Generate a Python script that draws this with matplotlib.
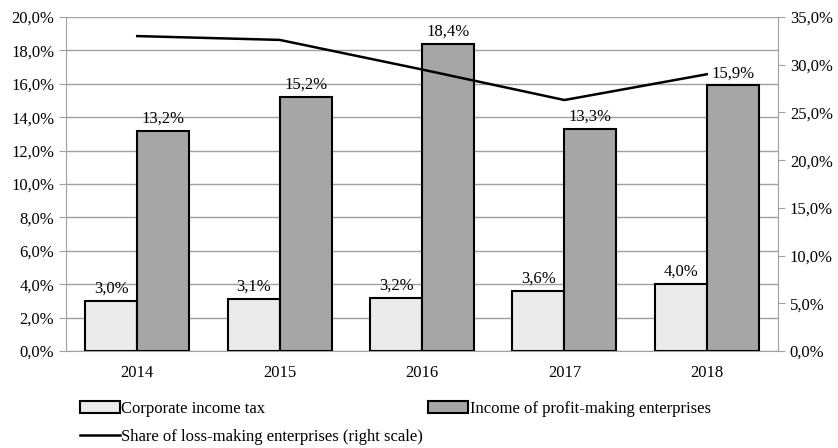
import matplotlib
matplotlib.use("Agg")
import matplotlib.pyplot as plt
import matplotlib.ticker as mticker
from matplotlib.patches import Patch
from matplotlib.lines import Line2D
import numpy as np

years = ["2014", "2015", "2016", "2017", "2018"]
corporate_tax = [3.0, 3.1, 3.2, 3.6, 4.0]
profit_income = [13.2, 15.2, 18.4, 13.3, 15.9]
loss_share = [33.0, 32.6, 29.5, 26.3, 29.0]

LIGHT = "#ebebeb"
DARK = "#a6a6a6"
GRID = "#a0a0a0"

plt.rcParams.update({
    "font.family": ["Liberation Serif", "DejaVu Serif"],
    "font.size": 12,
})


def pct(v, _=None):
    return f"{v:.1f}%".replace(".", ",")


fig = plt.figure(figsize=(8.38, 4.48), dpi=100)
ax = fig.add_axes([66 / 838, 97 / 448, 712 / 838, 334 / 448])
x = np.arange(len(years))
w = 0.365

b1 = ax.bar(x - w / 2, corporate_tax, w, color=LIGHT, edgecolor="black",
            linewidth=1.5, zorder=3)
b2 = ax.bar(x + w / 2, profit_income, w, color=DARK, edgecolor="black",
            linewidth=1.5, zorder=3)
for bars, vals in ((b1, corporate_tax), (b2, profit_income)):
    for b, v in zip(bars, vals):
        ax.annotate(pct(v), (b.get_x() + b.get_width() / 2, v),
                    xytext=(0, 3), textcoords="offset points",
                    ha="center", va="bottom")

ax.set_xlim(-0.5, len(years) - 0.5)
ax.set_ylim(0, 20)
ax.set_yticks(np.arange(0, 20.1, 2))
ax.yaxis.set_major_formatter(mticker.FuncFormatter(pct))
ax.set_xticks(x)
ax.set_xticklabels(years)
ax.tick_params(axis="x", length=0, pad=10)
ax.tick_params(axis="y", length=5, color=GRID, direction="out")
ax.grid(axis="y", color=GRID, linewidth=1, zorder=0)
ax.set_axisbelow(True)
for side in ("top", "right"):
    ax.spines[side].set_visible(False)
ax.spines["left"].set_color(GRID)
ax.spines["bottom"].set_color(GRID)

ax2 = ax.twinx()
ax2.plot(x, loss_share, color="black", linewidth=1.8, zorder=4)
ax2.set_ylim(0, 35)
ax2.set_yticks(np.arange(0, 35.1, 5))
ax2.yaxis.set_major_formatter(mticker.FuncFormatter(pct))
ax2.tick_params(axis="y", length=5, color=GRID, direction="out")
for side in ("top", "left", "bottom"):
    ax2.spines[side].set_visible(False)
ax2.spines["right"].set_color(GRID)

handles = [
    Patch(facecolor=LIGHT, edgecolor="black", linewidth=1.5),
    Line2D([], [], color="black", linewidth=1.8),
    Patch(facecolor=DARK, edgecolor="black", linewidth=1.5),
]
labels = ["Corporate income tax", "Share of loss-making enterprises (right scale)",
          "Income of profit-making enterprises"]
fig.legend(handles, labels, ncol=2, loc="upper left",
           bbox_to_anchor=(73 / 838, 1 - 394 / 448), frameon=False,
           handlelength=2.4, handletextpad=0.1, columnspacing=0.3,
           labelspacing=0.75, borderaxespad=0)

fig.savefig("out.png", dpi=100)
